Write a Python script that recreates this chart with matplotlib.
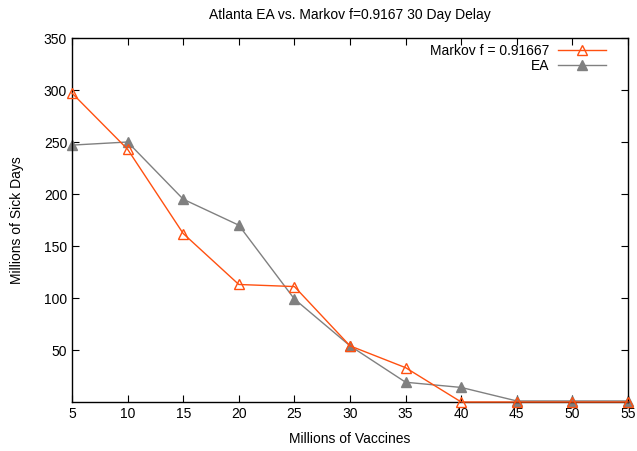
import matplotlib
matplotlib.use("Agg")
import matplotlib.pyplot as plt

plt.rcParams['font.family'] = ['Liberation Sans', 'DejaVu Sans']

vaccines = [5, 10, 15, 20, 25, 30, 35, 40, 45, 50, 55]
markov = [297, 243, 162, 113, 111, 54, 33, 0, 0, 0, 0]
ea = [247, 250, 195, 170, 99, 54, 19, 14, 1, 1, 1]

fig = plt.figure(figsize=(6.37, 4.51), dpi=100)
ax = fig.add_axes([72 / 637, 1 - 402 / 451, 556 / 637, 364 / 451])

ax.plot(vaccines, markov, color='#ff5010', lw=1, marker='^', ms=7,
        mfc='none', mec='#ff5010', mew=1, label='Markov f = 0.91667',
        clip_on=False, zorder=3)
ax.plot(vaccines, ea, color='#808080', lw=1, marker='^', ms=7,
        mfc='#808080', mec='#808080', label='EA', clip_on=False, zorder=2)

ax.set_xlim(5, 55)
ax.set_ylim(0, 350)
ax.set_xticks(range(5, 56, 5))
ax.set_yticks(range(50, 351, 50))
ax.tick_params(direction='in', top=True, right=True, labelsize=10, length=5)
for s in ax.spines.values():
    s.set_linewidth(1)

ax.set_xlabel('Millions of Vaccines', fontsize=10, labelpad=8)
ax.set_ylabel('Millions of Sick Days', fontsize=10, labelpad=14)
ax.set_title('Atlanta EA vs. Markov f=0.9167 30 Day Delay', fontsize=10, pad=14)

ax.legend(loc='upper right', frameon=False, markerfirst=False, fontsize=10,
          handlelength=3.5, handletextpad=0.6, borderaxespad=0, labelspacing=0.1,
          bbox_to_anchor=(612 / 637, 1 - 38 / 451), bbox_transform=fig.transFigure)

fig.savefig('out.png', dpi=100)
